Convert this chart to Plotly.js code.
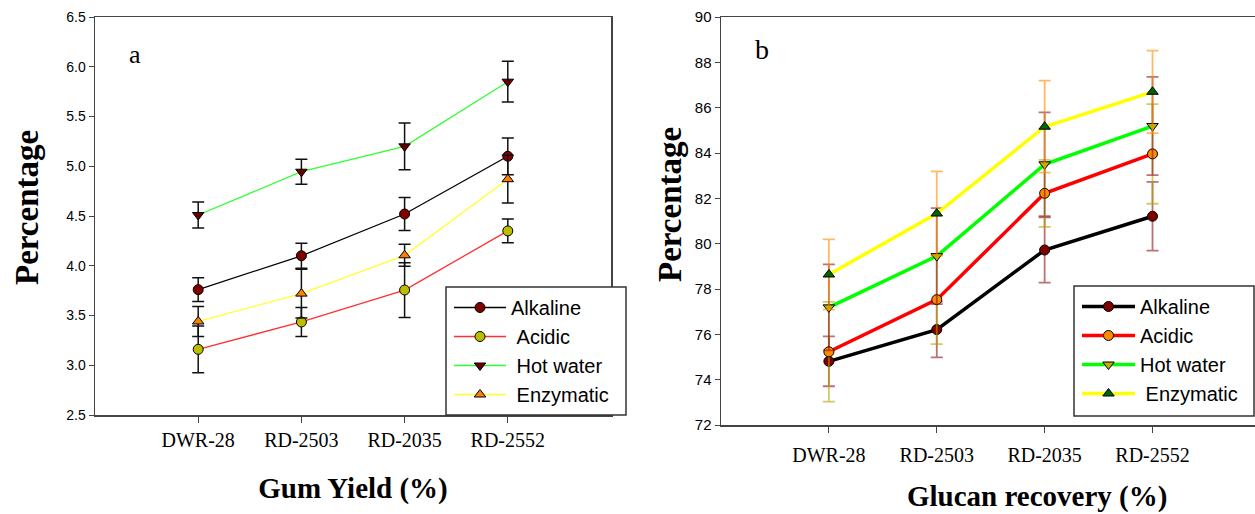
<!DOCTYPE html>
<html>
<head>
<meta charset="utf-8">
<script src="https://cdn.plot.ly/plotly-3.0.1.min.js"></script>
<style>html,body{margin:0;padding:0;background:#fff;}#chart{width:1255px;height:514px;}</style>
</head>
<body>
<div id="chart"></div>
<script>
// Categories (tick labels)
const varieties = ["DWR-28", "RD-2503", "RD-2035", "RD-2552"];
const seriesNamesA = ["Alkaline", "\u00A0Acidic", "\u00A0Hot water", "\u00A0Enzymatic"];
const seriesNamesB = ["Alkaline", "Acidic", "Hot water", "\u00A0Enzymatic"];

// Panel a: Gum Yield (%)
const gumAlkaline = [3.76, 4.10, 4.52, 5.10];
const gumAcidic = [3.16, 3.435, 3.756, 4.35];
const gumHotWater = [4.51, 4.945, 5.20, 5.85];
const gumEnzymatic = [3.44, 3.72, 4.105, 4.87];
const gumAlkalineErr = [0.12, 0.125, 0.165, 0.185];
const gumAcidicErr = [0.235, 0.145, 0.275, 0.12];
const gumHotWaterErr = [0.13, 0.125, 0.235, 0.205];
const gumEnzymaticErr = [0.15, 0.245, 0.11, 0.24];

// Panel b: Glucan recovery (%)
const glcAlkaline = [74.81, 76.21, 79.72, 81.21];
const glcAcidic = [75.23, 77.53, 82.22, 83.96];
const glcHotWater = [77.19, 79.45, 83.50, 85.19];
const glcEnzymatic = [78.64, 81.33, 85.16, 86.70];
const glcAlkalineErr = [1.10, 1.23, 1.44, 1.52];
const glcAcidicErr = [2.20, 1.96, 1.48, 2.20];
const glcHotWaterErr = [1.90, 2.12, 2.29, 2.17];
const glcEnzymaticErr = [1.55, 1.86, 2.03, 1.82];

function traceA(name, y, err, lineColor, symbol, fill) {
  return {
    type: "scatter", mode: "lines+markers", x: varieties, y: y, name: name,
    xaxis: "x", yaxis: "y", legend: "legend",
    line: {color: lineColor, width: 1.3},
    marker: {symbol: symbol, size: 10, color: fill, line: {color: "#000", width: 1}},
    error_y: {type: "data", array: err, visible: true, color: "#111", thickness: 1.5, width: 6}
  };
}
function traceB(name, y, err, lineColor, symbol, fill, errColor) {
  return {
    type: "scatter", mode: "lines+markers", x: varieties, y: y, name: name,
    xaxis: "x2", yaxis: "y2", legend: "legend2",
    line: {color: lineColor, width: 3.5},
    marker: {symbol: symbol, size: 10, color: fill, line: {color: "#000", width: 1}},
    error_y: {type: "data", array: err, visible: true, color: errColor, thickness: 1.8, width: 6}
  };
}

const data = [
  traceA(seriesNamesA[0], gumAlkaline, gumAlkalineErr, "#000000", "circle", "#800000"),
  traceA(seriesNamesA[1], gumAcidic, gumAcidicErr, "#FF3030", "circle", "#BDBD00"),
  traceA(seriesNamesA[2], gumHotWater, gumHotWaterErr, "#30FF30", "triangle-down", "#660000"),
  traceA(seriesNamesA[3], gumEnzymatic, gumEnzymaticErr, "#FFFF30", "triangle-up", "#FF8000"),
  traceB(seriesNamesB[0], glcAlkaline, glcAlkalineErr, "#000000", "circle", "#800000", "rgba(140,20,20,0.6)"),
  traceB(seriesNamesB[1], glcAcidic, glcAcidicErr, "#FF0000", "circle", "#FF8C00", "rgba(175,165,0,0.6)"),
  traceB(seriesNamesB[2], glcHotWater, glcHotWaterErr, "#00FF00", "triangle-down", "#BDB000", "rgba(140,20,20,0.6)"),
  traceB(seriesNamesB[3], glcEnzymatic, glcEnzymaticErr, "#FFFF00", "triangle-up", "#006400", "rgba(255,140,0,0.6)")
];

const serif = "Liberation Serif, Times New Roman, serif";
const sans = "Liberation Sans, Arial, sans-serif";
const W = 1255, H = 514;
const px = v => v / W;
const py = v => 1 - v / H;

const layout = {
  width: W, height: H,
  margin: {l: 0, r: 0, t: 0, b: 0},
  paper_bgcolor: "#fff", plot_bgcolor: "#fff",
  showlegend: true,
  xaxis: {
    type: "category", domain: [px(95), px(611)], range: [-1, 4],
    showline: true, mirror: true, linecolor: "#444", linewidth: 1.5,
    ticks: "outside", ticklen: 6, tickcolor: "#444", showgrid: false, zeroline: false,
    tickfont: {family: serif, size: 20, color: "#000"},
    title: {text: "<b>Gum Yield (%)</b>", font: {family: serif, size: 29, color: "#000"}, standoff: 28},
    automargin: false, fixedrange: true
  },
  yaxis: {
    domain: [99 / H, 497 / H], range: [2.5, 6.5], dtick: 0.5, tickformat: ".1f",
    showline: true, mirror: true, linecolor: "#444", linewidth: 1.5,
    ticks: "outside", ticklen: 5, tickcolor: "#444", showgrid: false, zeroline: false,
    tickfont: {family: sans, size: 14, color: "#000"},
    automargin: false, fixedrange: true
  },
  xaxis2: {
    type: "category", domain: [px(721), 1], range: [-1, 3.95], anchor: "y2",
    showline: true, mirror: true, linecolor: "#444", linewidth: 1.5,
    ticks: "outside", ticklen: 6, tickcolor: "#444", showgrid: false, zeroline: false,
    tickfont: {family: serif, size: 20, color: "#000"}, ticklabelstandoff: 5,
    automargin: false, fixedrange: true
  },
  yaxis2: {
    domain: [89 / H, 497 / H], range: [72, 90], dtick: 2, anchor: "x2",
    showline: true, mirror: false, linecolor: "#444", linewidth: 1.5,
    ticks: "outside", ticklen: 5, tickcolor: "#444", showgrid: false, zeroline: false,
    tickfont: {family: sans, size: 15, color: "#000"},
    automargin: false, fixedrange: true
  },
  legend: {
    x: px(449), y: py(288), xanchor: "left", yanchor: "top", xref: "paper", yref: "paper",
    bgcolor: "rgba(0,0,0,0)", borderwidth: 0,
    font: {family: sans, size: 20, color: "#000"}, itemwidth: 52, traceorder: "normal"
  },
  legend2: {
    x: px(1077), y: py(287), xanchor: "left", yanchor: "top", xref: "paper", yref: "paper",
    bgcolor: "rgba(0,0,0,0)", borderwidth: 0,
    font: {family: sans, size: 20, color: "#000"}, itemwidth: 53, traceorder: "normal"
  },
  shapes: [
    {type: "rect", xref: "paper", yref: "paper", x0: px(446), x1: px(626), y0: py(415), y1: py(287),
     layer: "above", fillcolor: "#fff", line: {color: "#333", width: 1.5}},
    {type: "rect", xref: "paper", yref: "paper", x0: px(1074), x1: px(1254), y0: py(416), y1: py(286),
     layer: "above", fillcolor: "#fff", line: {color: "#333", width: 1.5}}
  ],
  annotations: [
    {text: "a", xref: "paper", yref: "paper", x: px(135), y: py(55), xanchor: "center", yanchor: "middle",
     showarrow: false, font: {family: serif, size: 26, color: "#000"}},
    {text: "b", xref: "paper", yref: "paper", x: px(762), y: py(50), xanchor: "center", yanchor: "middle",
     showarrow: false, font: {family: serif, size: 28, color: "#000"}},
    {text: "<b>Percentage</b>", xref: "paper", yref: "paper", x: px(27), y: py(208), textangle: -90,
     xanchor: "center", yanchor: "middle", showarrow: false, font: {family: serif, size: 33, color: "#000"}},
    {text: "<b>Percentage</b>", xref: "paper", yref: "paper", x: px(670), y: py(205), textangle: -90,
     xanchor: "center", yanchor: "middle", showarrow: false, font: {family: serif, size: 33, color: "#000"}},
    {text: "<b>Glucan recovery (%)</b>", xref: "paper", yref: "paper", x: px(1037), y: py(496),
     xanchor: "center", yanchor: "middle", showarrow: false, font: {family: serif, size: 29, color: "#000"}}
  ]
};

Plotly.newPlot("chart", data, layout, {displayModeBar: false, staticPlot: true});
</script>
</body>
</html>
